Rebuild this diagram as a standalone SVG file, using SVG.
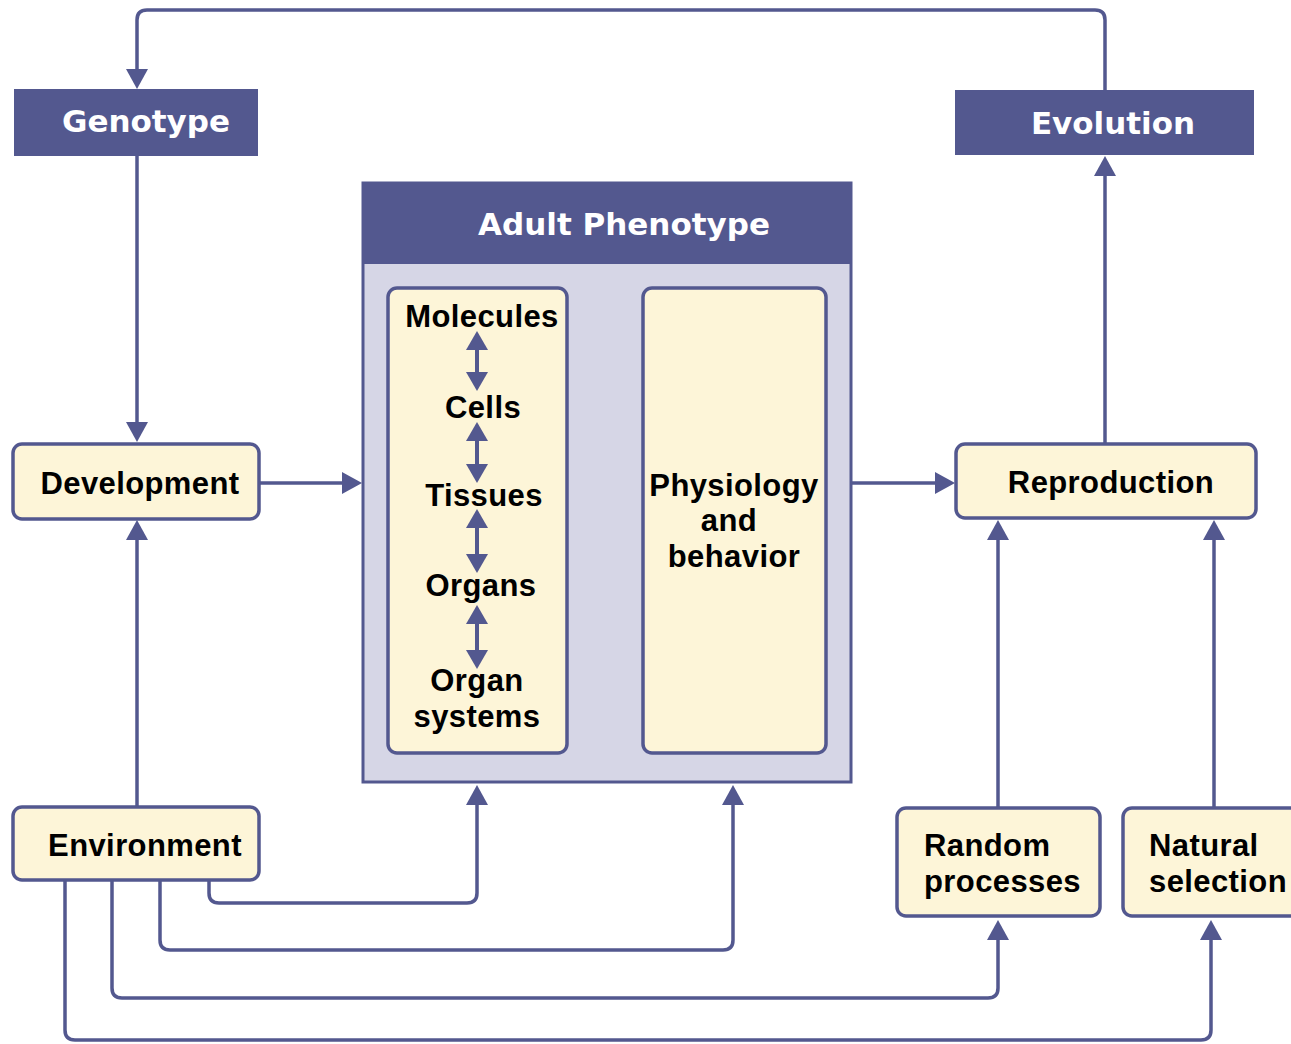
<svg xmlns="http://www.w3.org/2000/svg" width="1291" height="1044" viewBox="0 0 1291 1044">
<style>
.dark{fill:#53588f;}
.node{fill:#fdf5d8;stroke:#53588f;stroke-width:3.5;}
.outer{fill:#d6d6e6;stroke:#53588f;stroke-width:3;}
.wt{font-family:"DejaVu Sans",sans-serif;font-weight:bold;font-size:31px;fill:#ffffff;text-anchor:middle;}
.bt{font-family:"Liberation Sans",Arial,sans-serif;font-weight:bold;font-size:31px;fill:#000000;text-anchor:middle;letter-spacing:0.4px;}
.lt{text-anchor:start;}
.conn{fill:none;stroke:#53588f;stroke-width:3.5;}
.dbl{fill:none;stroke:#53588f;stroke-width:4;}
</style>
<defs>
<marker id="ah" markerUnits="userSpaceOnUse" markerWidth="22" markerHeight="24" refX="10" refY="11" orient="auto">
<path d="M0,0 L20,11 L0,22 z" fill="#53588f"/>
</marker>
<marker id="sm" markerUnits="userSpaceOnUse" markerWidth="22" markerHeight="24" refX="9" refY="11" orient="auto-start-reverse">
<path d="M0,0 L19,11 L0,22 z" fill="#53588f"/>
</marker>
</defs>

<g id="connectors">
<path class="conn" d="M1105,90 V20 Q1105,10 1095,10 H147 Q137,10 137,20 V79" marker-end="url(#ah)"/>
<path class="conn" d="M137,156 V432" marker-end="url(#ah)"/>
<path class="conn" d="M137,807 V530" marker-end="url(#ah)"/>
<path class="conn" d="M259,483 H352" marker-end="url(#ah)"/>
<path class="conn" d="M567,483 H631" marker-end="url(#ah)"/>
<path class="conn" d="M851,483 H945" marker-end="url(#ah)"/>
<path class="conn" d="M1105,444 V166" marker-end="url(#ah)"/>
<path class="conn" d="M998,808 V530" marker-end="url(#ah)"/>
<path class="conn" d="M1214,808 V530" marker-end="url(#ah)"/>
<path class="conn" d="M209,880 V893 Q209,903 219,903 H467 Q477,903 477,893 V795" marker-end="url(#ah)"/>
<path class="conn" d="M160,880 V940 Q160,950 170,950 H723 Q733,950 733,940 V795" marker-end="url(#ah)"/>
<path class="conn" d="M112,880 V988 Q112,998 122,998 H988 Q998,998 998,988 V930" marker-end="url(#ah)"/>
<path class="conn" d="M65,880 V1030 Q65,1040 75,1040 H1201 Q1211,1040 1211,1030 V930" marker-end="url(#ah)"/>
</g>

<g id="genotype">
<rect class="dark" x="14" y="89" width="244" height="67"/>
<text class="wt" x="146" y="132">Genotype</text>
</g>

<g id="evolution">
<rect class="dark" x="955" y="90" width="299" height="65"/>
<text class="wt" x="1113" y="134">Evolution</text>
</g>

<g id="adult-phenotype">
<rect class="outer" x="363" y="183" width="488" height="599"/>
<rect class="dark" x="363" y="183" width="488" height="81"/>
<text class="wt" x="624" y="235">Adult Phenotype</text>
</g>

<g id="levels">
<rect class="node" x="388" y="288" width="179" height="465" rx="9"/>
<text class="bt" x="482" y="327">Molecules</text>
<text class="bt" x="483" y="418">Cells</text>
<text class="bt" x="484" y="506">Tissues</text>
<text class="bt" x="481" y="596">Organs</text>
<text class="bt" x="477" y="691">Organ</text>
<text class="bt" x="477" y="727">systems</text>
<path class="dbl" d="M477,341 V381" marker-start="url(#sm)" marker-end="url(#sm)"/>
<path class="dbl" d="M477,432 V473" marker-start="url(#sm)" marker-end="url(#sm)"/>
<path class="dbl" d="M477,519 V563" marker-start="url(#sm)" marker-end="url(#sm)"/>
<path class="dbl" d="M477,615 V659" marker-start="url(#sm)" marker-end="url(#sm)"/>
</g>

<g id="physiology">
<rect class="node" x="643" y="288" width="183" height="465" rx="9"/>
<text class="bt" x="734" y="496">Physiology</text>
<text class="bt" x="729" y="531">and</text>
<text class="bt" x="734" y="567">behavior</text>
</g>

<g id="development">
<rect class="node" x="13" y="444" width="246" height="75" rx="9"/>
<text class="bt" x="140" y="494">Development</text>
</g>

<g id="reproduction">
<rect class="node" x="956" y="444" width="300" height="74" rx="9"/>
<text class="bt" x="1111" y="493">Reproduction</text>
</g>

<g id="environment">
<rect class="node" x="13" y="807" width="246" height="73" rx="9"/>
<text class="bt" x="145" y="856">Environment</text>
</g>

<g id="random-processes">
<rect class="node" x="897" y="808" width="203" height="108" rx="9"/>
<text class="bt lt" x="924" y="856">Random</text>
<text class="bt lt" x="924" y="892">processes</text>
</g>

<g id="natural-selection">
<rect class="node" x="1123" y="808" width="180" height="108" rx="9"/>
<text class="bt lt" x="1149" y="856">Natural</text>
<text class="bt lt" x="1149" y="892">selection</text>
</g>
</svg>
